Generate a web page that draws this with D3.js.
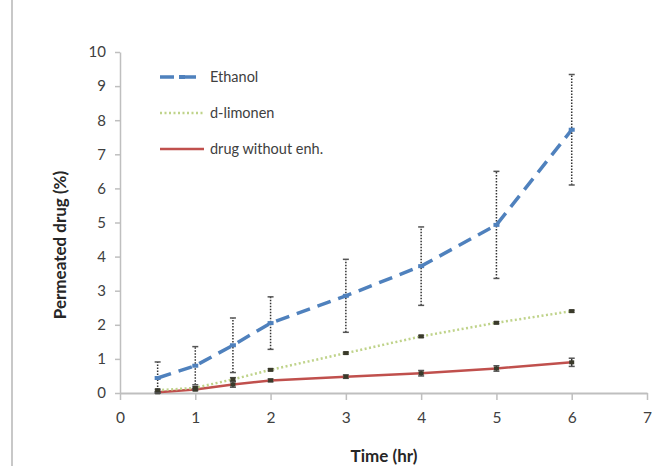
<!DOCTYPE html>
<html>
<head>
<meta charset="utf-8">
<script src="https://cdn.jsdelivr.net/npm/d3@7"></script>
<style>
  body { margin: 0; background: #fff; }
  svg { display: block; font-family: Lato, "Open Sans", sans-serif; }
</style>
</head>
<body>
<div id="chart"></div>
<script>
// time points (hr)
const times = [0.5, 1, 1.5, 2, 3, 4, 5, 6];

// series values (%)
const ethanol = [0.44, 0.80, 1.40, 2.05, 2.85, 3.72, 4.93, 7.72];
const ethanolErr = [0.47, 0.56, 0.80, 0.77, 1.07, 1.15, 1.57, 1.62];
const limonene = [0.08, 0.15, 0.40, 0.68, 1.17, 1.66, 2.06, 2.40];
const limoneneErr = [0.03, 0.03, 0.05, 0.03, 0.03, 0.03, 0.03, 0.03];
const noEnh = [0.02, 0.10, 0.25, 0.37, 0.48, 0.58, 0.72, 0.90];
const noEnhErr = [0.02, 0.03, 0.08, 0.04, 0.05, 0.08, 0.08, 0.12];

const xTicks = [0, 1, 2, 3, 4, 5, 6, 7];
const yTicks = [0, 1, 2, 3, 4, 5, 6, 7, 8, 9, 10];
const seriesNames = ["Ethanol", "d-limonen", "drug without enh."];

const width = 663;
const height = 466;
const marginLeft = 120;
const marginRight = 16;
const marginTop = 52;
const marginBottom = 73;

const svg = d3.select("#chart")
    .append("svg")
    .attr("width", width)
    .attr("height", height);

// frame line on the left like the scanned figure
svg.append("line")
    .attr("x1", 12).attr("x2", 12)
    .attr("y1", 0).attr("y2", height)
    .attr("stroke", "#c8c8c8")
    .attr("stroke-width", 2);

const x = d3.scaleLinear()
    .domain([0, 7])
    .range([marginLeft, width - marginRight]);

const y = d3.scaleLinear()
    .domain([0, 10])
    .range([height - marginBottom, marginTop]);

// X AXIS
svg.append("g")
    .attr("transform", `translate(0, ${y(0)})`)
    .call(d3.axisBottom(x).tickValues(xTicks).tickFormat(d3.format("d"))
        .tickSize(7).tickSizeOuter(0).tickPadding(12))
    .call(g => g.select(".domain").attr("stroke", "#bfbfbf").attr("stroke-width", 2))
    .call(g => g.selectAll("line").attr("stroke", "#bfbfbf").attr("stroke-width", 1.5))
    .selectAll("text")
    .attr("fill", "#404040")
    .attr("font-size", "15.5px")
    .attr("font-family", "Lato, sans-serif");

// Y AXIS
svg.append("g")
    .attr("transform", `translate(${x(0)}, 0)`)
    .call(d3.axisLeft(y).tickValues(yTicks).tickFormat(d3.format("d"))
        .tickSize(5).tickSizeOuter(0).tickPadding(9))
    .call(g => g.select(".domain").attr("stroke", "#bfbfbf").attr("stroke-width", 1.5))
    .call(g => g.selectAll("line").attr("stroke", "#bfbfbf").attr("stroke-width", 1.5))
    .selectAll("text")
    .attr("fill", "#404040")
    .attr("font-size", "15px")
    .attr("font-family", "Lato, sans-serif");

// AXIS TITLES
svg.append("text")
    .attr("x", 384)
    .attr("y", 462)
    .attr("text-anchor", "middle")
    .attr("font-size", "17px")
    .attr("font-weight", "bold")
    .attr("fill", "#262626")
    .text("Time (hr)");

svg.append("text")
    .attr("transform", `translate(66, 245) rotate(-90)`)
    .attr("text-anchor", "middle")
    .attr("font-size", "17px")
    .attr("font-weight", "bold")
    .attr("fill", "#262626")
    .text("Permeated drug (%)");

const series = [
    { name: seriesNames[0], values: ethanol, err: ethanolErr, color: "#4f81bd", dash: "14,8", width: 3.5, errDash: "1.5,1.5" },
    { name: seriesNames[1], values: limonene, err: limoneneErr, color: "#bfd38a", dash: "2,2.5", width: 2.5, errDash: null },
    { name: seriesNames[2], values: noEnh, err: noEnhErr, color: "#c0504d", dash: null, width: 2.5, errDash: null }
];

const line = d3.line()
    .x((d, i) => x(times[i]))
    .y(d => y(d));

// draw lower series first
series.slice().reverse().forEach(s => {
    const g = svg.append("g");

    g.append("path")
        .datum(s.values)
        .attr("fill", "none")
        .attr("stroke", s.color)
        .attr("stroke-width", s.width)
        .attr("stroke-dasharray", s.dash)
        .attr("d", line);

    // ERROR BARS
    const eb = g.selectAll("g.eb")
        .data(s.values)
        .join("g");

    eb.append("line")
        .attr("x1", (d, i) => x(times[i]))
        .attr("x2", (d, i) => x(times[i]))
        .attr("y1", (d, i) => y(Math.max(0, d - s.err[i])))
        .attr("y2", (d, i) => y(d + s.err[i]))
        .attr("stroke", "#333")
        .attr("stroke-width", 1.5)
        .attr("stroke-dasharray", s.errDash);

    [-1, 1].forEach(sign => {
        eb.append("line")
            .attr("x1", (d, i) => x(times[i]) - 3)
            .attr("x2", (d, i) => x(times[i]) + 3)
            .attr("y1", (d, i) => y(Math.max(0, d + sign * s.err[i])))
            .attr("y2", (d, i) => y(Math.max(0, d + sign * s.err[i])))
            .attr("stroke", "#555")
            .attr("stroke-width", 1.5);
    });

    // markers
    const isBlue = s.name === seriesNames[0];
    g.selectAll("rect.mk")
        .data(s.values)
        .join("rect")
        .attr("x", (d, i) => x(times[i]) - (isBlue ? 3 : 2.5))
        .attr("y", d => y(d) - 2)
        .attr("width", isBlue ? 6 : 5)
        .attr("height", 4)
        .attr("fill", isBlue ? s.color : "#3a3a2a");
});

// LEGEND
const legend = svg.append("g");
const legendY = [77, 113, 149];

series.forEach((s, i) => {
    legend.append("line")
        .attr("x1", 160)
        .attr("x2", 204)
        .attr("y1", legendY[i])
        .attr("y2", legendY[i])
        .attr("stroke", s.color)
        .attr("stroke-width", s.width)
        .attr("stroke-dasharray", s.dash);

    if (i === 0) {
        legend.append("rect")
            .attr("x", 179)
            .attr("y", legendY[i] - 2)
            .attr("width", 6)
            .attr("height", 4)
            .attr("fill", s.color);
    }

    legend.append("text")
        .attr("x", 210)
        .attr("y", legendY[i])
        .attr("dy", "0.35em")
        .attr("font-size", "14.5px")
        .attr("fill", "#404040")
        .text(s.name);
});
</script>
</body>
</html>
